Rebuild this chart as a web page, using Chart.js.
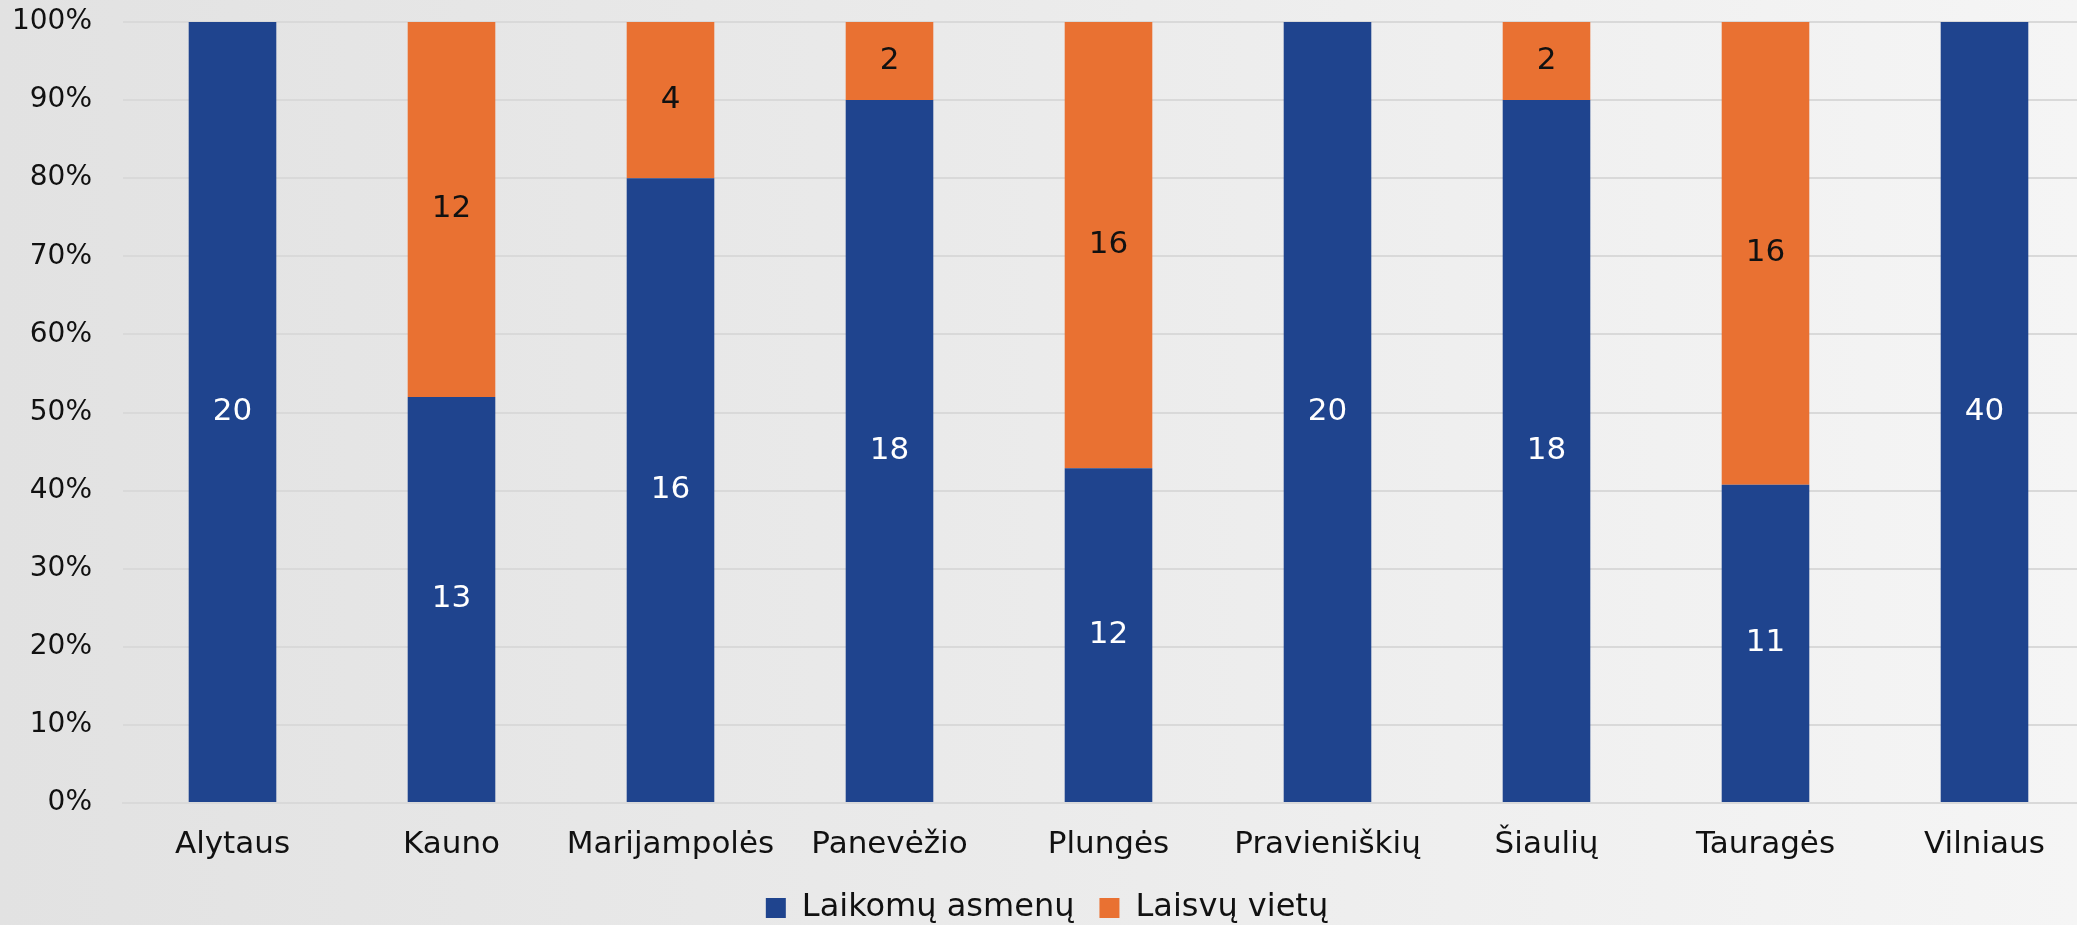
<!DOCTYPE html>
<html>
<head>
<meta charset="utf-8">
<script src="https://cdn.jsdelivr.net/npm/chart.js@4/dist/chart.umd.min.js"></script>
<style>
html,body{margin:0;padding:0;overflow:hidden;width:2077px;height:925px;}
body{background:linear-gradient(to right,#e2e2e2 0%,#eaeaea 45%,#f5f5f5 100%);}
#wrap{position:absolute;left:0;top:0;width:2160px;height:925px;}
canvas{display:block;}
</style>
</head>
<body>
<div id="wrap"><canvas id="c" width="2160" height="925"></canvas></div>
<script>
const categories = ["Alytaus","Kauno","Marijampolės","Panevėžio","Plungės","Pravieniškių","Šiaulių","Tauragės","Vilniaus"];
const heldPersons = [20,13,16,18,12,20,18,11,40];
const freePlaces  = [0,12,4,2,16,0,2,16,0];
const seriesNames = ["Laikomų asmenų","Laisvų vietų"];
const yTickValues = [0,10,20,30,40,50,60,70,80,90,100];

const totals = categories.map((_, i) => heldPersons[i] + freePlaces[i]);
const pct = arr => arr.map((v, i) => totals[i] ? v / totals[i] * 100 : 0);

const FONT = "'DejaVu Sans', sans-serif";

const valueLabels = {
  id: 'valueLabels',
  afterDatasetsDraw(chart) {
    const ctx = chart.ctx;
    ctx.save();
    ctx.font = "31px " + FONT;
    ctx.textAlign = 'center';
    ctx.textBaseline = 'middle';
    chart.data.datasets.forEach((ds, di) => {
      const meta = chart.getDatasetMeta(di);
      meta.data.forEach((el, i) => {
        const raw = ds.rawValues[i];
        if (!raw) return;
        ctx.fillStyle = ds.labelColor;
        ctx.fillText(String(raw), el.x, (el.y + el.base) / 2);
      });
    });
    ctx.restore();
  }
};

new Chart(document.getElementById('c'), {
  type: 'bar',
  data: {
    labels: categories,
    datasets: [
      { label: seriesNames[0], data: pct(heldPersons), rawValues: heldPersons, backgroundColor: '#1F448E', labelColor: '#ffffff', barPercentage: 0.8, categoryPercentage: 0.5 },
      { label: seriesNames[1], data: pct(freePlaces), rawValues: freePlaces, backgroundColor: '#E97132', labelColor: '#111111', barPercentage: 0.8, categoryPercentage: 0.5 }
    ]
  },
  options: {
    responsive: false,
    animation: false,
    layout: { padding: { top: 22, right: 66, left: 0, bottom: -9 } },
    plugins: {
      legend: {
        position: 'bottom',
        labels: { font: { family: FONT, size: 32 }, color: '#111', boxWidth: 20, boxHeight: 20, padding: 25 }
      },
      tooltip: { enabled: false }
    },
    scales: {
      x: {
        stacked: true,
        afterFit(scale) { scale.height = 64; },
        grid: { display: false, drawTicks: false },
        border: { display: true, color: '#d9d9d9', width: 2 },
        ticks: { font: { family: FONT, size: 31 }, color: '#111', padding: 23, maxRotation: 0 }
      },
      y: {
        stacked: true,
        min: 0, max: 100,
        afterFit(scale) { scale.width = 123; },
        afterBuildTicks(scale) { scale.ticks = yTickValues.map(v => ({ value: v })); },
        grid: { color: '#d9d9d9', lineWidth: 2, drawTicks: true, tickLength: 31, tickColor: 'rgba(0,0,0,0)' },
        border: { display: false },
        ticks: { font: { family: FONT, size: 28 }, color: '#111', padding: 0, callback: v => v + '%' }
      }
    }
  },
  plugins: [valueLabels]
});
</script>
</body>
</html>
